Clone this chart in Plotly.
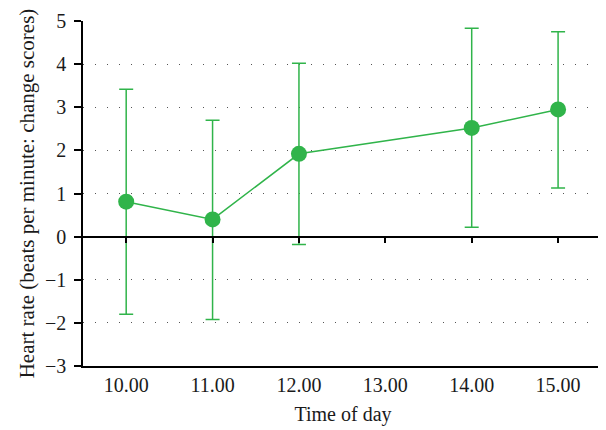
import plotly.graph_objects as go

hours = [10, 11, 12, 14, 15]
means = [0.81, 0.40, 1.92, 2.52, 2.95]
upper = [3.42, 2.70, 4.02, 4.83, 4.75]
lower = [-1.80, -1.92, -0.18, 0.22, 1.13]
xtick_vals = [10, 11, 12, 13, 14, 15]
xtick_text = ["10.00", "11.00", "12.00", "13.00", "14.00", "15.00"]
ytick_vals = [-3, -2, -1, 0, 1, 2, 3, 4, 5]

err_plus = [u - m for u, m in zip(upper, means)]
err_minus = [m - l for m, l in zip(means, lower)]

green = "#30b44a"
font = "Liberation Serif"

fig = go.Figure()
fig.add_trace(go.Scatter(
    x=hours, y=means, mode="lines+markers",
    line=dict(color=green, width=1.5),
    marker=dict(color=green, size=16),
    error_y=dict(type="data", symmetric=False, array=err_plus, arrayminus=err_minus,
                 color=green, thickness=1.5, width=7),
    showlegend=False,
))
# invisible trace on the tick axis
fig.add_trace(go.Scatter(x=hours, y=means, xaxis="x2", mode="markers",
                         marker=dict(opacity=0), showlegend=False, hoverinfo="skip"))

fig.update_layout(
    width=598, height=422,
    margin=dict(l=75, r=3, t=13, b=64),
    plot_bgcolor="white", paper_bgcolor="white",
    font=dict(family=font, size=20, color="#1a1a1a"),
    xaxis=dict(range=[9.5, 15.52], tickvals=xtick_vals, ticktext=xtick_text,
               ticks="", showline=True, linecolor="black", linewidth=1.5,
               showgrid=False, zeroline=False, mirror=False, automargin=False,
               title=dict(text="Time of day", standoff=12, font=dict(size=20)),
               tickfont=dict(size=20)),
    xaxis2=dict(range=[9.5, 15.52], overlaying="x", anchor="free", position=0.375,
                tickvals=xtick_vals, showticklabels=False, ticks="outside",
                ticklen=6, tickwidth=1.5, tickcolor="black", automargin=False,
                showline=True, linecolor="black", linewidth=1.5, showgrid=False,
                zeroline=False),
    yaxis=dict(range=[-3, 5], tickvals=ytick_vals, ticks="outside", ticklen=7,
               tickwidth=1.5, tickcolor="black", showline=True, linecolor="black",
               linewidth=1.5, showgrid=True, gridcolor="#555", gridwidth=1,
               griddash="1px,11px", zeroline=False, automargin=False,
               ticklabelstandoff=4,
               title=dict(text="Heart rate (beats per minute: change scores)",
                          standoff=5, font=dict(size=21)),
               tickfont=dict(size=20)),
)

fig.write_html("out.html")
